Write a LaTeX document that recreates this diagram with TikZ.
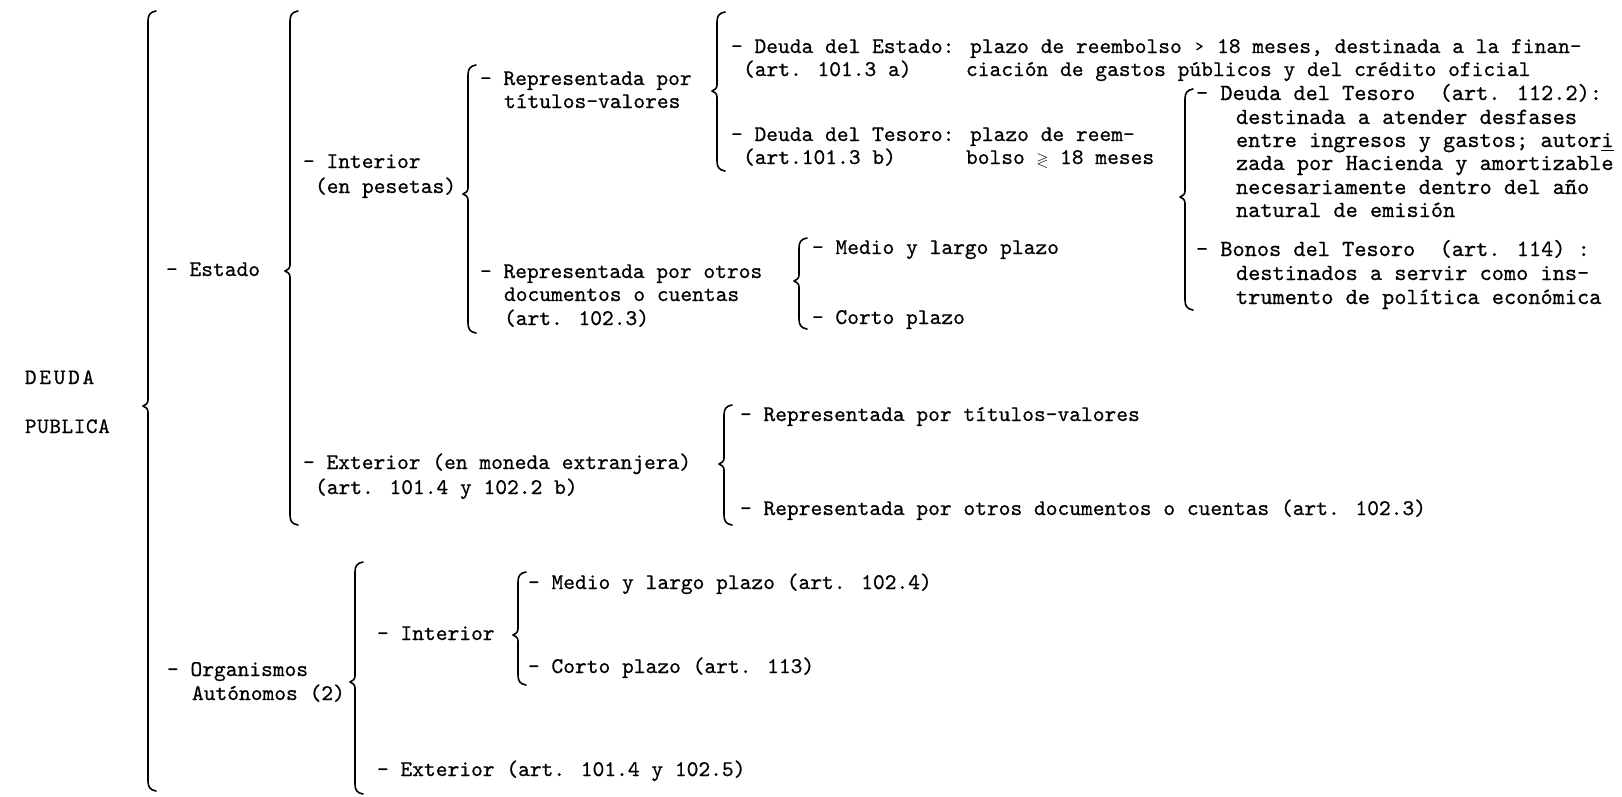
\documentclass[tikz,border=0pt]{standalone}
\usepackage{amssymb}
\usepackage{fontspec}
\newfontfamily\tw{lmmono10-regular.otf}[FakeBold=0.6]
\newcommand\typbrace[4]{%
  \draw[bracestyle] ({#1+8},{#2}) .. controls ({#1+2},{#2+1}) and ({#1},{#2+4}) .. ({#1},{#2+10})
    -- ({#1},{#3-6}) .. controls ({#1},{#3-2}) and ({#1-3},{#3-1}) .. ({#1-5},{#3})
    .. controls ({#1-3},{#3+1}) and ({#1},{#3+2}) .. ({#1},{#3+6})
    -- ({#1},{#4-10}) .. controls ({#1},{#4-4}) and ({#1+2},{#4-1}) .. ({#1+8},{#4});}
\newcommand\cellsym[1]{\makebox[11.76pt]{#1}}
\tikzset{
  txt/.style={anchor=base west, inner sep=0pt, outer sep=0pt, font=\tw\fontsize{22.4}{26}\selectfont},
  txtr/.style={txt, font=\tw\fontsize{23.2}{27}\selectfont},
  ttl/.style={txt, font=\tw\fontsize{22}{26}\selectfont},
  bracestyle/.style={line width=1.6pt, line cap=round, line join=round},
}
\begin{document}
\begin{tikzpicture}[x=1pt,y=-1pt]
\fill[white] (0,0) rectangle (1622,796);
\useasboundingbox (0,0) rectangle (1622,796);

% titles
\node[ttl] (deuda) at (25,384) {\addfontfeature{LetterSpace=13}DEUDA};
\node[ttl] (publica) at (25,433) {\addfontfeature{LetterSpace=3}PUBLICA};

% braces: x, top, tip, bottom
\typbrace{148}{11}{406}{791}
\typbrace{290}{11}{271}{525}
\typbrace{468}{65}{194}{333}
\typbrace{717}{12}{91}{171}
\typbrace{1185}{89}{197}{310}
\typbrace{799}{238}{281}{329}
\typbrace{724}{405}{464}{525}
\typbrace{355}{562}{682}{794}
\typbrace{518}{572}{635}{685}

% level 1
\node[txt] (estado) at (166,276) {- Estado};
\node[txt] (organismos) at (167,676) {- Organismos};
\node[txt] (autonomos) at (192,700) {Autónomos (2)};

% Estado
\node[txt] (interior) at (303,168) {- Interior};
\node[txt] (pesetas) at (315,193) {(en pesetas)};
\node[txt] (exterior) at (303,469) {- Exterior (en moneda extranjera)};
\node[txt] (exteriorart) at (315,494) {(art. 101.4 y 102.2 b)};

% Interior (en pesetas)
\node[txt] (reptit) at (480,85) {- Representada por};
\node[txt] (reptit2) at (504,108) {títulos-valores};
\node[txt] (repotr) at (480,278) {- Representada por otros};
\node[txt] (repotr2) at (504,301) {documentos o cuentas};
\node[txt] (repotr3) at (504,325) {(art. 102.3)};

% titulos-valores
\node[txt] (destado) at (731,53) {- Deuda del Estado: plazo de reembolso \cellsym{\raisebox{2pt}{\fontsize{15}{15}\selectfont >}} 18 meses, destinada a la finan-};
\node[txt] (destadoart) at (743,76) {(art. 101.3 a)};
\node[txt] (destado2) at (966,76) {ciación de gastos públicos y del crédito oficial};
\node[txt] (dtesoro) at (731,141) {- Deuda del Tesoro: plazo de reem-};
\node[txt] (dtesoroart) at (743,164) {(art.101.3 b)};
\node[txt] (dtesoro2) at (966,164) {bolso \cellsym{$\scriptstyle\gtrless$} 18 meses};

% Tesoro right block
\node[txtr] (t1) at (1196,100) {- Deuda del Tesoro~ (art. 112.2):};
\node[txtr] (t2) at (1236,124) {destinada a atender desfases};
\node[txtr] (t3) at (1236,147) {entre ingresos y gastos; autor\underline{i}};
\node[txtr] (t4) at (1236,170) {zada por Hacienda y amortizable};
\node[txtr] (t5) at (1236,194) {necesariamente dentro del año};
\node[txtr] (t6) at (1236,217) {natural de emisión};
\node[txtr] (b1) at (1196,256) {- Bonos del Tesoro~ (art. 114) :};
\node[txtr] (b2) at (1236,280) {destinados a servir como ins-};
\node[txtr] (b3) at (1236,304) {trumento de política económica};

% otros documentos
\node[txt] (medio) at (812,254) {- Medio y largo plazo};
\node[txt] (corto) at (812,324) {- Corto plazo};

% Exterior
\node[txt] (extit) at (740,421) {- Representada por títulos-valores};
\node[txt] (exotr) at (740,515) {- Representada por otros documentos o cuentas (art. 102.3)};

% Organismos
\node[txt] (ointerior) at (377,640) {- Interior};
\node[txt] (omedio) at (528,589) {- Medio y largo plazo (art. 102.4)};
\node[txt] (ocorto) at (528,673) {- Corto plazo (art. 113)};
\node[txt] (oexterior) at (377,776) {- Exterior (art. 101.4 y 102.5)};
\end{tikzpicture}
\end{document}
